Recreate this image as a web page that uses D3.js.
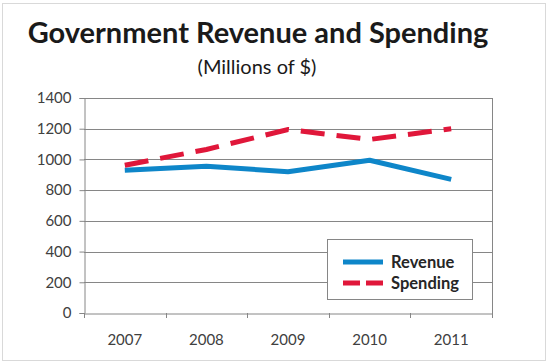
<!DOCTYPE html>
<html><head><meta charset="utf-8">
<script src="https://cdn.jsdelivr.net/npm/d3@7"></script>
<style>body{margin:0;background:#fff}svg{display:block}</style>
</head><body>
<script>
const years = ["2007","2008","2009","2010","2011"];
const revenue = [930, 955, 920, 995, 870];
const spending = [962, 1065, 1195, 1130, 1200];
const yTicks = [0,200,400,600,800,1000,1200,1400];
const seriesNames = ["Revenue","Spending"];

const W=550,H=363;
const svg=d3.select("body").append("svg").attr("width",W).attr("height",H);
const font="Lato, 'Open Sans', sans-serif";
svg.append("rect").attr("x",2.5).attr("y",3.5).attr("width",543).attr("height",357)
  .attr("fill","#fff").attr("stroke","#d9d9d9");

const m={l:84,r:492,t:98,b:313};
const x=d3.scaleBand().domain(years).range([m.l,m.r]);
const y=d3.scaleLinear().domain([0,1400]).range([m.b,m.t]);

// gridlines
svg.append("g").selectAll("line").data(yTicks.slice(1)).join("line")
  .attr("x1",m.l).attr("x2",m.r).attr("y1",d=>Math.round(y(d))+0.5).attr("y2",d=>Math.round(y(d))+0.5)
  .attr("stroke","#868686").attr("stroke-width",1);
// right border
svg.append("line").attr("x1",m.r+0.5).attr("x2",m.r+0.5).attr("y1",m.t).attr("y2",m.b)
  .attr("stroke","#868686");

const ya=svg.append("g").attr("transform",`translate(${m.l+0.5},0)`)
  .call(d3.axisLeft(y).tickValues(yTicks).tickSize(5).tickPadding(8).tickFormat(d3.format("d")));
const xa=svg.append("g").attr("transform",`translate(0,${m.b+0.5})`)
  .call(d3.axisBottom(x).tickSize(0).tickPadding(21));
// boundary ticks for x
svg.append("g").selectAll("line").data(d3.range(years.length+1)).join("line")
  .attr("x1",i=>Math.round(m.l+i*x.step())+0.5).attr("x2",i=>Math.round(m.l+i*x.step())+0.5)
  .attr("y1",m.b).attr("y2",m.b+5).attr("stroke","#868686");
[ya,xa].forEach(a=>{
  a.selectAll(".domain").attr("stroke","#868686");
  a.selectAll(".tick line").attr("stroke","#868686");
  a.selectAll("text").attr("font-family",font).attr("font-size",15).attr("fill","#404040");
});

const line=d3.line().x((d,i)=>x(years[i])+x.bandwidth()/2).y(d=>y(d));
svg.append("path").datum(revenue).attr("d",line).attr("fill","none")
  .attr("stroke","#0e86c9").attr("stroke-width",5).attr("stroke-linejoin","round");
svg.append("path").datum(spending).attr("d",line).attr("fill","none")
  .attr("stroke","#e0173a").attr("stroke-width",5).attr("stroke-dasharray","24,12");

// title
svg.append("text").attr("x",258).attr("y",43).attr("text-anchor","middle")
  .attr("font-family",font).attr("font-weight",700).attr("font-size",29).attr("fill","#1a1a1a")
  .text("Government Revenue and Spending");
svg.append("text").attr("x",257).attr("y",74).attr("text-anchor","middle")
  .attr("font-family",font).attr("font-weight",400).attr("font-size",20).attr("fill","#1a1a1a")
  .text("(Millions of $)");

// legend
const lg=svg.append("g");
lg.append("rect").attr("x",327.5).attr("y",239.5).attr("width",145).attr("height",60)
  .attr("fill","#fff").attr("stroke","#868686");
const colors=["#0e86c9","#e0173a"], dashes=[null,"17,6"];
seriesNames.forEach((n,i)=>{
  const yy=262+i*21;
  lg.append("line").attr("x1",343).attr("x2",383).attr("y1",yy).attr("y2",yy)
    .attr("stroke",colors[i]).attr("stroke-width",5).attr("stroke-dasharray",dashes[i]);
  lg.append("text").attr("x",391).attr("y",yy+5.5).attr("font-family",font).attr("font-weight",700)
    .attr("font-size",16.5).attr("fill","#262626").text(n);
});
</script>
</body></html>
